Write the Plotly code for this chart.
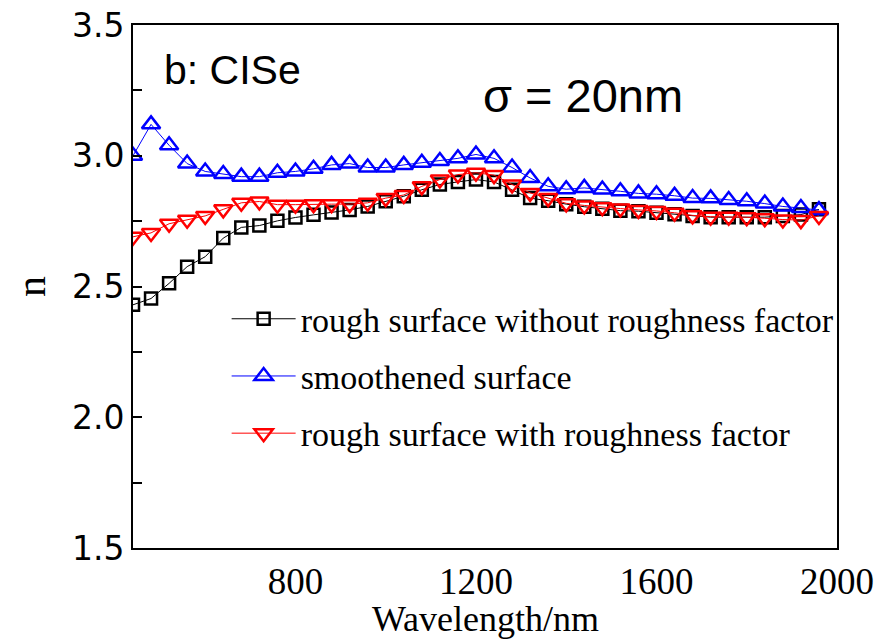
import plotly.graph_objects as go

# wavelength grid (nm)
wavelength = [440 + 40 * k for k in range(39)]

n_rough = [2.43, 2.454, 2.512, 2.576, 2.614, 2.685, 2.726, 2.733, 2.751, 2.764,
           2.774, 2.783, 2.793, 2.806, 2.826, 2.845, 2.87, 2.89, 2.90, 2.909,
           2.90, 2.87, 2.838, 2.828, 2.815, 2.805, 2.797, 2.79, 2.788, 2.782,
           2.776, 2.77, 2.765, 2.765, 2.765, 2.765, 2.77, 2.775, 2.795]

n_smooth = [3.00, 3.12, 3.04, 2.97, 2.94, 2.93, 2.92, 2.92, 2.935, 2.94,
            2.95, 2.965, 2.97, 2.955, 2.955, 2.965, 2.973, 2.98, 2.99, 3.005,
            2.99, 2.955, 2.915, 2.883, 2.872, 2.877, 2.871, 2.864, 2.856, 2.853,
            2.847, 2.838, 2.837, 2.831, 2.826, 2.817, 2.806, 2.80, 2.792]

n_factor = [2.69, 2.705, 2.74, 2.755, 2.77, 2.795, 2.82, 2.825, 2.813, 2.813,
            2.815, 2.815, 2.815, 2.82, 2.838, 2.85, 2.883, 2.909, 2.928, 2.935,
            2.926, 2.89, 2.858, 2.838, 2.818, 2.81, 2.803, 2.798, 2.793, 2.789,
            2.782, 2.772, 2.767, 2.767, 2.765, 2.761, 2.756, 2.754, 2.77]

names = ["rough surface without roughness factor",
         "smoothened surface",
         "rough surface with roughness factor"]

series = [
    (n_rough, "black", "square-open", 12),
    (n_smooth, "blue", "triangle-up-open", 16),
    (n_factor, "red", "triangle-down-open", 16),
]

fig = go.Figure()
for i, (vals, col, sym, sz) in enumerate(series):
    fig.add_trace(go.Scatter(
        x=wavelength, y=vals, name=names[i], mode="lines+markers",
        legendgroup=str(i),
        line=dict(color=col, width=1),
        marker=dict(symbol=sym, size=sz, color=col, line=dict(width=2.5, color=col)),
    ))

# page is drawn with an 8px body offset, margins compensate for it
fig.update_layout(
    width=896, height=643,
    margin=dict(l=125, r=67, t=17, b=103),
    paper_bgcolor="white", plot_bgcolor="white",
    showlegend=True,
    legend=dict(x=0.133, y=0.493, xanchor="left", yanchor="top",
                itemwidth=64, bgcolor="rgba(0,0,0,0)", tracegroupgap=10,
                font=dict(family="Liberation Serif", size=34, color="black")),
    annotations=[
        dict(text="b: CISe", x=0.041, y=0.914, xref="paper", yref="paper",
             xanchor="left", yanchor="middle", showarrow=False,
             font=dict(family="Liberation Sans", size=41, color="black")),
        dict(text="σ = 20nm", x=0.495, y=0.866, xref="paper", yref="paper",
             xanchor="left", yanchor="middle", showarrow=False,
             font=dict(family="Liberation Sans", size=47, color="black")),
        # x axis title, placed by hand so it sits tight under the tick labels
        dict(text="Wavelength/nm", x=0.5, y=-0.136, xref="paper", yref="paper",
             xanchor="center", yanchor="middle", showarrow=False,
             font=dict(family="Liberation Serif", size=36, color="black")),
    ],
)

fig.update_xaxes(
    range=[440, 2000], tickvals=[800, 1200, 1600, 2000],
    showgrid=False, zeroline=False, automargin=False,
    showline=True, linecolor="black", linewidth=2, mirror=True,
    ticks="", ticklabeloverflow="allow",
    tickfont=dict(family="Liberation Serif", size=37, color="black"),
)
fig.update_yaxes(
    range=[1.5, 3.5], tickvals=[1.5, 2.0, 2.5, 3.0, 3.5],
    ticktext=["1.5", "2.0", "2.5", "3.0", "3.5"],
    showgrid=False, zeroline=False, automargin=False,
    showline=True, linecolor="black", linewidth=2, mirror=True,
    ticks="inside", ticklen=9, tickwidth=1.5, tickcolor="black",
    minor=dict(tickvals=[1.75, 2.25, 2.75, 3.25], ticks="inside", ticklen=9,
               tickwidth=1.5, tickcolor="black"),
    ticklabeloverflow="allow",
    tickfont=dict(family="DejaVu Sans", size=33, color="black"),
    title=dict(text="n", standoff=18,
               font=dict(family="Liberation Serif", size=42, color="black")),
)

fig.write_html("out.html")
